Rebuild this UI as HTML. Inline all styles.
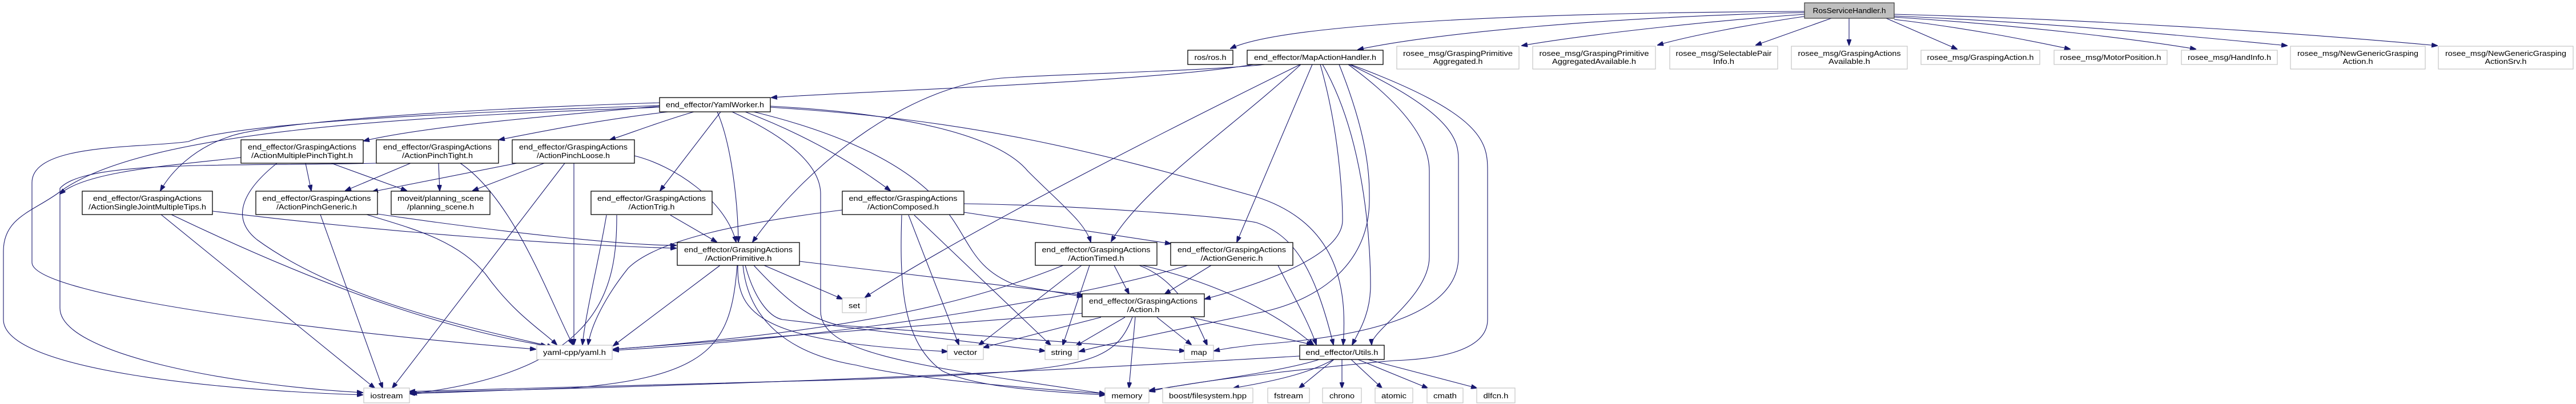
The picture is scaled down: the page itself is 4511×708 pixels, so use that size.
<!DOCTYPE html>
<html><head><meta charset="utf-8"><style>
html,body{margin:0;padding:0;background:#fff;}
svg{display:block;}
text{font-family:"Liberation Sans",sans-serif;font-size:13px;fill:#000;}
.e{fill:none;stroke:#191970;stroke-width:1.1;}
.n{fill:#fff;stroke:#000;stroke-width:1.3;}
.g{fill:#fff;stroke:#bfbfbf;stroke-width:1.1;}
</style></head><body>
<svg width="4511" height="708" viewBox="0 0 4511 708" xmlns="http://www.w3.org/2000/svg">
<defs><marker id="a" markerWidth="11" markerHeight="8" refX="10" refY="4" orient="auto" markerUnits="userSpaceOnUse"><path d="M0,0 L11,4 L0,8 z" fill="#191970" stroke="#191970"/></marker></defs>
<g marker-end="url(#a)">
<path class="e" d="M3160,20 C2700,22 2250,40 2155,85"/>
<path class="e" d="M3160,22 C2800,30 2500,60 2378,87"/>
<path class="e" d="M3160,25 C2950,40 2750,65 2665,80"/>
<path class="e" d="M3165,28 C3050,45 2950,65 2903,79"/>
<path class="e" d="M3207,32 L3075,79"/>
<path class="e" d="M3238,32 L3238,79"/>
<path class="e" d="M3303,32 L3427,86"/>
<path class="e" d="M3317,34 C3450,50 3550,70 3625,86"/>
<path class="e" d="M3317,30 C3550,45 3750,70 3845,86"/>
<path class="e" d="M3317,28 C3600,40 3850,65 4005,80"/>
<path class="e" d="M3317,25 C3700,35 4050,60 4268,80"/>
<path class="e" d="M2195,113 C2000,145 1500,160 1351,171"/>
<path class="e" d="M2215,113 C2100,125 1900,128 1766,136 C1600,145 1420,280 1318,424"/>
<path class="e" d="M2277,113 C2100,200 1700,400 1515,521"/>
<path class="e" d="M2278,113 C2150,230 2000,330 1946,423"/>
<path class="e" d="M2298,113 L2166,424"/>
<path class="e" d="M2312,113 C2351,250 2351,380 2351,386 C2351,450 2200,500 2110,524"/>
<path class="e" d="M2316,113 C2395,250 2400,450 2400,500 C2400,550 2380,580 2368,604"/>
<path class="e" d="M2361,113 C2480,200 2503,260 2503,300 L2503,450 C2503,520 2400,580 2402,604"/>
<path class="e" d="M2363,113 C2550,200 2554,250 2554,280 L2554,450 C2554,550 2400,590 2200,604 C2150,610 2140,612 2126,615"/>
<path class="e" d="M2365,113 C2600,200 2605,250 2605,300 L2605,560 C2605,620 2500,630 2440,632 C2350,640 2100,665 2013,686"/>
<path class="e" d="M2345,113 C2400,250 2398,320 2398,350 C2398,470 2300,530 2200,549 C2100,570 1950,600 1890,616"/>
<path class="e" d="M1155,186 C1000,200 750,220 637,247"/>
<path class="e" d="M1170,196 C1050,210 950,230 874,245"/>
<path class="e" d="M1215,196 C1150,215 1100,235 1068,245"/>
<path class="e" d="M1262,196 L1156,334"/>
<path class="e" d="M1256,196 C1280,250 1292,350 1293,424"/>
<path class="e" d="M1305,196 C1420,240 1500,290 1559,334"/>
<path class="e" d="M1349,186 C1600,200 1750,240 1800,300 C1860,360 1900,390 1910,424"/>
<path class="e" d="M1320,196 C1500,240 1600,300 1650,360 C1700,420 1700,470 1780,500 L1896,520"/>
<path class="e" d="M1282,196 C1400,250 1437,300 1437,340 L1437,545 C1437,620 1600,640 1935,690"/>
<path class="e" d="M1349,188 C1700,210 1900,260 2200,345 C2340,390 2360,500 2352,604"/>
<path class="e" d="M1155,180 C700,195 450,220 400,240 C340,260 300,300 281,334"/>
<path class="e" d="M1155,185 C700,200 400,220 330,248 C250,260 56,250 56,320 L56,460 C56,520 600,585 938,612"/>
<path class="e" d="M1155,188 C700,205 250,230 105,336 C60,370 6,380 6,440 L6,560 C6,650 400,685 635,692"/>
<path class="e" d="M535,286 L545,334"/>
<path class="e" d="M580,286 L712,334"/>
<path class="e" d="M485,286 C430,330 400,380 450,420 C600,530 850,580 968,608"/>
<path class="e" d="M422,276 C300,290 150,300 105,340"/>
<path class="e" d="M719,286 L605,334"/>
<path class="e" d="M768,286 L770,334"/>
<path class="e" d="M806,286 C900,350 960,520 1003,604"/>
<path class="e" d="M659,286 C400,292 150,280 105,330 L105,540 C105,620 400,675 635,688"/>
<path class="e" d="M905,286 L652,336"/>
<path class="e" d="M953,286 L828,334"/>
<path class="e" d="M989,286 L687,680"/>
<path class="e" d="M1005,286 L1005,604"/>
<path class="e" d="M1111,273 C1180,290 1270,350 1289,424"/>
<path class="e" d="M372,370 C700,410 1000,430 1184,435"/>
<path class="e" d="M300,376 C600,520 800,580 957,606"/>
<path class="e" d="M282,376 L656,680"/>
<path class="e" d="M661,375 C900,410 1100,430 1184,430"/>
<path class="e" d="M642,376 C720,400 800,420 850,480 C900,550 950,580 975,604"/>
<path class="e" d="M561,376 L670,680"/>
<path class="e" d="M1174,377 L1255,424"/>
<path class="e" d="M1062,377 C1050,450 1025,550 1020,604"/>
<path class="e" d="M1080,377 C1080,500 1060,650 720,690"/>
<path class="e" d="M1475,368 C1300,390 1150,420 1100,470 C1060,520 1035,570 1030,604"/>
<path class="e" d="M1591,377 L1679,604"/>
<path class="e" d="M1601,377 L1840,605"/>
<path class="e" d="M1579,377 C1575,500 1580,600 1650,650 C1700,675 1800,685 1935,692"/>
<path class="e" d="M1688,372 L2050,427"/>
<path class="e" d="M1688,357 C1900,360 2150,380 2200,390 C2260,410 2300,460 2335,604"/>
<path class="e" d="M1338,465 L1475,524"/>
<path class="e" d="M1400,458 L1896,517"/>
<path class="e" d="M1292,465 C1290,550 1330,600 1659,616"/>
<path class="e" d="M1305,465 C1320,520 1345,555 1370,560 L1830,615"/>
<path class="e" d="M1320,465 C1380,530 1420,560 1470,570 L2075,615"/>
<path class="e" d="M1301,465 C1310,560 1380,620 1500,640 C1600,665 1800,680 1935,690"/>
<path class="e" d="M1261,465 L1074,606"/>
<path class="e" d="M1291,465 C1280,600 1250,660 1000,680 L717,690"/>
<path class="e" d="M1951,465 L1977,515"/>
<path class="e" d="M1894,465 L1714,605"/>
<path class="e" d="M1908,465 L1861,605"/>
<path class="e" d="M1995,465 C2060,490 2090,550 2114,605"/>
<path class="e" d="M1862,465 C1700,530 1500,580 1074,612"/>
<path class="e" d="M2000,465 C2150,500 2250,560 2300,604"/>
<path class="e" d="M2121,465 L2040,515"/>
<path class="e" d="M2080,465 C1900,520 1500,590 1074,614"/>
<path class="e" d="M2238,465 C2260,510 2290,560 2305,604"/>
<path class="e" d="M1896,549 L1074,612"/>
<path class="e" d="M1928,556 L1722,609"/>
<path class="e" d="M1970,556 L1884,606"/>
<path class="e" d="M2026,556 L2086,604"/>
<path class="e" d="M1988,556 L1977,680"/>
<path class="e" d="M1983,556 C1950,640 1900,650 1500,665 L717,686"/>
<path class="e" d="M2085,556 L2298,604"/>
<path class="e" d="M2276,624 C2000,640 1500,670 717,688"/>
<path class="e" d="M2336,630 L2275,680"/>
<path class="e" d="M2350,630 L2350,680"/>
<path class="e" d="M2366,630 L2420,680"/>
<path class="e" d="M2378,630 L2500,680"/>
<path class="e" d="M2395,630 L2586,680"/>
<path class="e" d="M2335,630 C2300,650 2250,665 2160,680"/>
<path class="e" d="M2310,630 C2250,650 2100,670 2013,684"/>
</g>
<!-- nodes -->
<rect x="3160" y="5" width="157" height="27" fill="#bfbfbf" stroke="#404040" stroke-width="1.3"/>
<text x="3238.5" y="23" text-anchor="middle" textLength="128" lengthAdjust="spacingAndGlyphs">RosServiceHandler.h</text>

<rect class="n" x="2080" y="88" width="79" height="25"/><text x="2119.5" y="105" text-anchor="middle" textLength="56" lengthAdjust="spacingAndGlyphs">ros/ros.h</text>
<rect class="n" x="2184" y="88" width="238" height="25"/><text x="2303" y="105" text-anchor="middle" textLength="214" lengthAdjust="spacingAndGlyphs">end_effector/MapActionHandler.h</text>

<rect class="g" x="2446" y="81" width="214" height="40"/><text x="2553" y="98" text-anchor="middle" textLength="192" lengthAdjust="spacingAndGlyphs">rosee_msg/GraspingPrimitive</text><text x="2553" y="112" text-anchor="middle" textLength="87" lengthAdjust="spacingAndGlyphs">Aggregated.h</text>
<rect class="g" x="2684" y="81" width="215" height="40"/><text x="2791.5" y="98" text-anchor="middle" textLength="192" lengthAdjust="spacingAndGlyphs">rosee_msg/GraspingPrimitive</text><text x="2791.5" y="112" text-anchor="middle" textLength="147" lengthAdjust="spacingAndGlyphs">AggregatedAvailable.h</text>
<rect class="g" x="2924" y="81" width="189" height="40"/><text x="3018.5" y="98" text-anchor="middle" textLength="168" lengthAdjust="spacingAndGlyphs">rosee_msg/SelectablePair</text><text x="3018.5" y="112" text-anchor="middle" textLength="37" lengthAdjust="spacingAndGlyphs">Info.h</text>
<rect class="g" x="3137" y="81" width="203" height="40"/><text x="3238.5" y="98" text-anchor="middle" textLength="180" lengthAdjust="spacingAndGlyphs">rosee_msg/GraspingActions</text><text x="3238.5" y="112" text-anchor="middle" textLength="73" lengthAdjust="spacingAndGlyphs">Available.h</text>
<rect class="g" x="3364" y="88" width="208" height="25"/><text x="3468" y="105" text-anchor="middle" textLength="187" lengthAdjust="spacingAndGlyphs">rosee_msg/GraspingAction.h</text>
<rect class="g" x="3597" y="88" width="198" height="25"/><text x="3696" y="105" text-anchor="middle" textLength="177" lengthAdjust="spacingAndGlyphs">rosee_msg/MotorPosition.h</text>
<rect class="g" x="3820" y="88" width="168" height="25"/><text x="3904" y="105" text-anchor="middle" textLength="146" lengthAdjust="spacingAndGlyphs">rosee_msg/HandInfo.h</text>
<rect class="g" x="4011" y="81" width="236" height="40"/><text x="4129" y="98" text-anchor="middle" textLength="212" lengthAdjust="spacingAndGlyphs">rosee_msg/NewGenericGrasping</text><text x="4129" y="112" text-anchor="middle" textLength="53" lengthAdjust="spacingAndGlyphs">Action.h</text>
<rect class="g" x="4270" y="81" width="236" height="40"/><text x="4388" y="98" text-anchor="middle" textLength="212" lengthAdjust="spacingAndGlyphs">rosee_msg/NewGenericGrasping</text><text x="4388" y="112" text-anchor="middle" textLength="73" lengthAdjust="spacingAndGlyphs">ActionSrv.h</text>

<rect class="n" x="1155" y="171" width="194" height="25"/><text x="1252" y="188" text-anchor="middle" textLength="172" lengthAdjust="spacingAndGlyphs">end_effector/YamlWorker.h</text>

<rect class="n" x="422" y="245" width="214" height="41"/><text x="529" y="262" text-anchor="middle" textLength="190" lengthAdjust="spacingAndGlyphs">end_effector/GraspingActions</text><text x="529" y="277" text-anchor="middle" textLength="178" lengthAdjust="spacingAndGlyphs">/ActionMultiplePinchTight.h</text>
<rect class="n" x="659" y="245" width="214" height="41"/><text x="766" y="262" text-anchor="middle" textLength="190" lengthAdjust="spacingAndGlyphs">end_effector/GraspingActions</text><text x="766" y="277" text-anchor="middle" textLength="124" lengthAdjust="spacingAndGlyphs">/ActionPinchTight.h</text>
<rect class="n" x="897" y="245" width="214" height="41"/><text x="1004" y="262" text-anchor="middle" textLength="190" lengthAdjust="spacingAndGlyphs">end_effector/GraspingActions</text><text x="1004" y="277" text-anchor="middle" textLength="128" lengthAdjust="spacingAndGlyphs">/ActionPinchLoose.h</text>

<rect class="n" x="144" y="335" width="228" height="41"/><text x="258" y="352" text-anchor="middle" textLength="190" lengthAdjust="spacingAndGlyphs">end_effector/GraspingActions</text><text x="258" y="367" text-anchor="middle" textLength="206" lengthAdjust="spacingAndGlyphs">/ActionSingleJointMultipleTips.h</text>
<rect class="n" x="448" y="335" width="213" height="41"/><text x="554.5" y="352" text-anchor="middle" textLength="190" lengthAdjust="spacingAndGlyphs">end_effector/GraspingActions</text><text x="554.5" y="367" text-anchor="middle" textLength="141" lengthAdjust="spacingAndGlyphs">/ActionPinchGeneric.h</text>
<rect class="n" x="685" y="335" width="173" height="41"/><text x="771.5" y="352" text-anchor="middle" textLength="151" lengthAdjust="spacingAndGlyphs">moveit/planning_scene</text><text x="771.5" y="367" text-anchor="middle" textLength="117" lengthAdjust="spacingAndGlyphs">/planning_scene.h</text>
<rect class="n" x="1035" y="335" width="212" height="41"/><text x="1141" y="352" text-anchor="middle" textLength="190" lengthAdjust="spacingAndGlyphs">end_effector/GraspingActions</text><text x="1141" y="367" text-anchor="middle" textLength="81" lengthAdjust="spacingAndGlyphs">/ActionTrig.h</text>
<rect class="n" x="1475" y="335" width="213" height="41"/><text x="1581.5" y="352" text-anchor="middle" textLength="190" lengthAdjust="spacingAndGlyphs">end_effector/GraspingActions</text><text x="1581.5" y="367" text-anchor="middle" textLength="125" lengthAdjust="spacingAndGlyphs">/ActionComposed.h</text>

<rect class="n" x="1186" y="425" width="214" height="40"/><text x="1293" y="442" text-anchor="middle" textLength="190" lengthAdjust="spacingAndGlyphs">end_effector/GraspingActions</text><text x="1293" y="457" text-anchor="middle" textLength="117" lengthAdjust="spacingAndGlyphs">/ActionPrimitive.h</text>
<rect class="n" x="1813" y="425" width="213" height="40"/><text x="1919.5" y="442" text-anchor="middle" textLength="190" lengthAdjust="spacingAndGlyphs">end_effector/GraspingActions</text><text x="1919.5" y="457" text-anchor="middle" textLength="98" lengthAdjust="spacingAndGlyphs">/ActionTimed.h</text>
<rect class="n" x="2050" y="425" width="214" height="40"/><text x="2157" y="442" text-anchor="middle" textLength="190" lengthAdjust="spacingAndGlyphs">end_effector/GraspingActions</text><text x="2157" y="457" text-anchor="middle" textLength="109" lengthAdjust="spacingAndGlyphs">/ActionGeneric.h</text>

<rect class="g" x="1475" y="522" width="42" height="26"/><text x="1496" y="540" text-anchor="middle" textLength="20" lengthAdjust="spacingAndGlyphs">set</text>
<rect class="n" x="1895" y="515" width="214" height="40"/><text x="2002" y="532" text-anchor="middle" textLength="190" lengthAdjust="spacingAndGlyphs">end_effector/GraspingActions</text><text x="2002" y="547" text-anchor="middle" textLength="57" lengthAdjust="spacingAndGlyphs">/Action.h</text>

<rect class="g" x="940" y="605" width="132" height="25"/><text x="1006" y="622" text-anchor="middle" textLength="110" lengthAdjust="spacingAndGlyphs">yaml-cpp/yaml.h</text>
<rect class="g" x="1659" y="605" width="63" height="25"/><text x="1690.5" y="622" text-anchor="middle" textLength="41" lengthAdjust="spacingAndGlyphs">vector</text>
<rect class="g" x="1830" y="605" width="58" height="25"/><text x="1859" y="622" text-anchor="middle" textLength="37" lengthAdjust="spacingAndGlyphs">string</text>
<rect class="g" x="2074" y="605" width="51" height="25"/><text x="2099.5" y="622" text-anchor="middle" textLength="28" lengthAdjust="spacingAndGlyphs">map</text>
<rect class="n" x="2276" y="605" width="148" height="25"/><text x="2350" y="622" text-anchor="middle" textLength="127" lengthAdjust="spacingAndGlyphs">end_effector/Utils.h</text>

<rect class="g" x="637" y="680" width="80" height="26"/><text x="677" y="698" text-anchor="middle" textLength="57" lengthAdjust="spacingAndGlyphs">iostream</text>
<rect class="g" x="1935" y="680" width="77" height="26"/><text x="1973.5" y="698" text-anchor="middle" textLength="54" lengthAdjust="spacingAndGlyphs">memory</text>
<rect class="g" x="2036" y="680" width="158" height="26"/><text x="2115" y="698" text-anchor="middle" textLength="136" lengthAdjust="spacingAndGlyphs">boost/filesystem.hpp</text>
<rect class="g" x="2220" y="680" width="73" height="26"/><text x="2256.5" y="698" text-anchor="middle" textLength="51" lengthAdjust="spacingAndGlyphs">fstream</text>
<rect class="g" x="2316" y="680" width="68" height="26"/><text x="2350" y="698" text-anchor="middle" textLength="44" lengthAdjust="spacingAndGlyphs">chrono</text>
<rect class="g" x="2408" y="680" width="66" height="26"/><text x="2441" y="698" text-anchor="middle" textLength="44" lengthAdjust="spacingAndGlyphs">atomic</text>
<rect class="g" x="2499" y="680" width="63" height="26"/><text x="2530.5" y="698" text-anchor="middle" textLength="41" lengthAdjust="spacingAndGlyphs">cmath</text>
<rect class="g" x="2586" y="680" width="67" height="26"/><text x="2619.5" y="698" text-anchor="middle" textLength="44" lengthAdjust="spacingAndGlyphs">dlfcn.h</text>
</svg>
</body></html>
